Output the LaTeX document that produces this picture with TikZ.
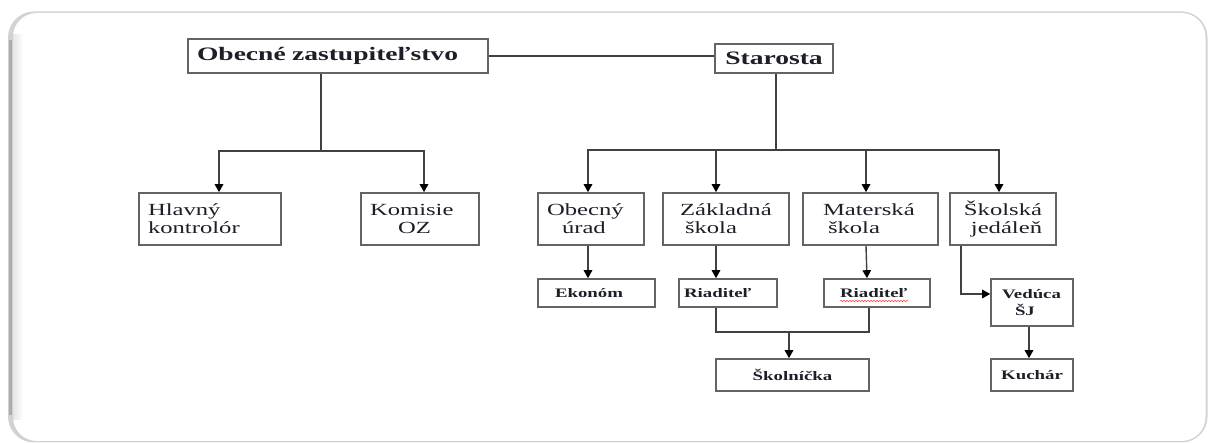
\documentclass[tikz,border=0pt]{standalone}
\usepackage{fontspec}
\setmainfont{Liberation Serif}
\newfontfamily\wfont[FakeStretch=1.45]{Liberation Serif}
\usetikzlibrary{arrows.meta,decorations.pathmorphing}
\definecolor{boxgray}{RGB}{100,100,100}
\definecolor{lingray}{RGB}{65,65,65}
\definecolor{txt}{RGB}{30,30,40}
\begin{document}
\begin{tikzpicture}[x=1pt,y=-1pt,
  box/.style={draw=boxgray, line width=1.6pt, rectangle, inner sep=0pt, text=txt},
  topfont/.style={font=\wfont\bfseries\fontsize{19}{22}\selectfont},
  midfont/.style={font=\wfont\fontsize{17}{17.7}\selectfont},
  lowfont/.style={font=\wfont\bfseries\fontsize{13}{17}\selectfont},
  lin/.style={draw=lingray, line width=1.4pt},
  arr/.style={lin, -{Triangle[length=8pt,width=8.5pt,fill=black,color=black]}}]
\useasboundingbox (0,0) rectangle (1208,443);
% panel
\fill[gray!35, rounded corners=26pt] (8,11.5) rectangle (1207.5,442.5);
\fill[white, rounded corners=24pt] (13,13) rectangle (1205.5,441);
\draw[gray!65, line width=2.5pt] (10.5,40) -- (10.5,415);
\shade[left color=gray!20, right color=white] (13,35) rectangle (23,420);
% top level
\node[box, topfont, minimum width=300pt, minimum height=34pt, text width=282pt, align=left] (obecne) at (338,56) {Obecné zastupiteľstvo};
\node[box, topfont, minimum width=118pt, minimum height=29pt, text width=110pt, align=center] (starosta) at (774,58.5) {Starosta};
% second level
\node[box, midfont, minimum width=142pt, minimum height=52pt, text width=124pt, align=left] (hlavny) at (210,219) {Hlavný\\kontrolór};
\node[box, midfont, minimum width=118pt, minimum height=52pt, text width=100pt, align=left] (komisie) at (420,219) {Komisie\\\hspace*{28pt}OZ};
\node[box, midfont, minimum width=106pt, minimum height=52pt, text width=88pt, align=left] (urad) at (591,219) {Obecný\\\hspace*{15pt}úrad};
\node[box, midfont, minimum width=126pt, minimum height=52pt, text width=92pt, align=left] (zakladna) at (726,219) {Základná\\\hspace*{5pt}škola};
\node[box, midfont, minimum width=135pt, minimum height=52pt, text width=95pt, align=left] (materska) at (870.5,219) {Materská\\\hspace*{5pt}škola};
\node[box, midfont, minimum width=106pt, minimum height=52pt, text width=96pt, align=center] (jedalen) at (1003,219) {Školská\\\hspace*{7pt}jedáleň};
% third level
\node[box, lowfont, minimum width=117pt, minimum height=28pt, text width=83pt, align=left] (ekonom) at (596.5,293) {Ekonóm};
\node[box, lowfont, minimum width=98pt, minimum height=28pt, text width=88pt, align=left] (riad1) at (728,293) {Riaditeľ};
\node[box, lowfont, minimum width=106pt, minimum height=28pt, text width=74pt, align=left] (riad2) at (877,293) {Riaditeľ};
\node[box, lowfont, minimum width=153pt, minimum height=32pt, text width=140pt, align=center] (skolnicka) at (792.5,375) {Školníčka};
\node[box, lowfont, minimum width=82pt, minimum height=47pt, text width=60pt, align=left] (veduca) at (1032,302.5) {Vedúca\\\hspace*{13pt}ŠJ};
\node[box, lowfont, minimum width=82pt, minimum height=32pt, text width=70pt, align=center] (kuchar) at (1032,375) {Kuchár};
% spell-check squiggle
\draw[red!75, line width=0.5pt, decorate, decoration={snake, amplitude=0.7pt, segment length=3pt}] ([xshift=-37pt,yshift=-8pt]riad2.center) -- ([xshift=31pt,yshift=-8pt]riad2.center);
% connectors
\draw[lin] (obecne.east) -- (obecne.east -| starosta.west);
\coordinate (b1) at (321,151);
\draw[lin] (obecne.south -| b1) -- (b1);
\draw[arr] (b1) -| ([xshift=9pt]hlavny.north);
\draw[arr] (b1) -| ([xshift=4pt]komisie.north);
\coordinate (b2) at (776,150);
\draw[lin] (starosta.south -| b2) -- (b2);
\draw[arr] (b2) -| ([xshift=-3pt]urad.north);
\draw[arr] (b2) -| ([xshift=-10pt]zakladna.north);
\draw[arr] (b2) -| ([xshift=-4.5pt]materska.north);
\draw[arr] (b2) -| ([xshift=-4pt]jedalen.north);
\draw[arr] ([xshift=-3pt]urad.south) -- ([xshift=-3pt]urad.south |- ekonom.north);
\draw[arr] ([xshift=-10pt]zakladna.south) -- ([xshift=-10pt]zakladna.south |- riad1.north);
\draw[arr] ([xshift=-4.5pt]materska.south) -- ([xshift=-3.5pt]materska.south |- riad2.north);
\coordinate (b3) at (789,332);
\draw[lin] ([xshift=-12pt]riad1.south) |- (b3);
\draw[lin] ([xshift=-8pt]riad2.south) |- (b3);
\draw[arr] (b3) -- (b3 |- skolnicka.north);
\coordinate (b4) at (961,294);
\draw[arr] (jedalen.south -| b4) -- (b4) -- (b4 -| veduca.west);
\draw[arr] ([xshift=-3pt]veduca.south) -- ([xshift=-3pt]veduca.south |- kuchar.north);
\end{tikzpicture}
\end{document}
